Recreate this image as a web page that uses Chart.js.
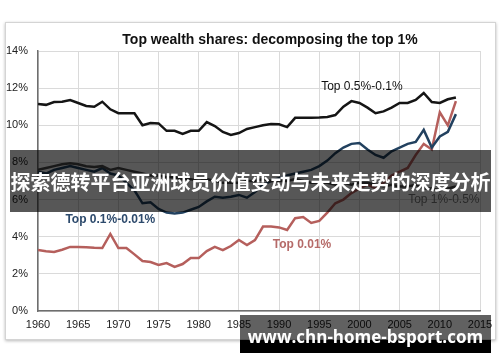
<!DOCTYPE html>
<html><head><meta charset="utf-8">
<script src="https://cdn.jsdelivr.net/npm/chart.js@4.4.1/dist/chart.umd.min.js"></script>
<style>
html,body{margin:0;padding:0;background:#fff;}
#wrap{position:relative;width:500px;height:362px;overflow:hidden;background:#fff;}
#frame{position:absolute;left:5px;top:22px;width:489px;height:316px;border:1px solid #d4d4d4;box-shadow:0 1px 3px rgba(0,0,0,0.28);background:#fff;}
#c{position:absolute;left:0;top:0;}
#title{position:absolute;left:0;top:31px;width:540px;text-align:center;font:bold 14px "Liberation Sans",Arial,sans-serif;color:#111;white-space:nowrap;}
#band{position:absolute;left:10px;top:150px;width:481px;height:62px;background:rgba(0,0,0,0.66);}
#band span{position:absolute;left:0;top:20px;width:481px;text-align:center;color:#fff;font:bold 20px "Noto Sans CJK SC",sans-serif;line-height:24px;white-space:nowrap;}
#wm{position:absolute;left:240px;top:315px;width:251px;height:38px;background:linear-gradient(to bottom,rgba(0,0,0,0.62) 0,rgba(0,0,0,0.62) 25px,#000 25px,#000 38px);}
#wm span{position:absolute;left:0;top:11px;width:251px;text-align:center;color:#fff;font:bold 17px "Open Sans",sans-serif;line-height:22px;white-space:nowrap;}
</style></head>
<body>
<div id="wrap">
<div id="frame"></div>
<canvas id="c" width="500" height="362"></canvas>
<div id="title">Top wealth shares: decomposing the top 1%</div>
<div id="band"><span>探索德转平台亚洲球员价值变动与未来走势的深度分析</span></div>
<div id="wm"><span>www.chn-home-bsport.com</span></div>
</div>
<script>
const years = [1960,1961,1962,1963,1964,1965,1966,1967,1968,1969,
1970,1971,1972,1973,1974,1975,1976,1977,1978,1979,
1980,1981,1982,1983,1984,1985,1986,1987,1988,1989,
1990,1991,1992,1993,1994,1995,1996,1997,1998,1999,
2000,2001,2002,2003,2004,2005,2006,2007,2008,2009,
2010,2011,2012];

const top1to05 = [7.6,7.7,7.8,7.9,7.95,7.9,7.8,7.75,7.8,7.6,
7.7,7.6,7.5,7.4,7.3,7.3,7.2,7.2,7.1,7.1,
7.0,7.1,7.0,6.9,6.9,6.9,7.0,7.0,7.1,7.0,
7.0,7.0,7.1,7.0,6.9,6.9,6.9,6.8,6.9,6.8,
6.9,6.9,6.8,6.7,6.8,6.7,6.7,6.8,6.6,6.6,
6.5,6.6,6.7];

const top05to01 = [11.15,11.1,11.25,11.27,11.36,11.2,11.04,11.0,11.27,10.86,
10.65,10.65,10.65,10.0,10.12,10.1,9.7,9.7,9.53,9.7,
9.7,10.17,9.96,9.64,9.48,9.58,9.8,9.9,10.0,10.07,
10.05,9.9,10.4,10.4,10.4,10.42,10.45,10.55,11.0,11.3,
11.2,10.95,10.65,10.75,10.95,11.2,11.2,11.36,11.74,11.25,
11.2,11.4,11.5];

const top01to001 = [7.5,7.4,7.6,7.7,7.8,7.7,7.6,7.5,7.7,7.4,
7.3,6.9,6.5,5.8,5.85,5.5,5.3,5.25,5.3,5.45,
5.6,5.9,6.15,6.1,6.15,6.25,6.1,6.4,6.8,7.0,
7.15,7.3,7.4,7.5,7.6,7.8,8.1,8.5,8.8,9.0,
9.05,8.7,8.4,8.25,8.6,8.8,9.0,9.1,9.75,8.8,
9.4,9.65,10.6];

const top001 = [3.28,3.22,3.18,3.3,3.45,3.45,3.43,3.4,3.39,4.15,
3.39,3.39,3.05,2.69,2.64,2.48,2.58,2.37,2.53,2.85,
2.85,3.23,3.45,3.28,3.5,3.82,3.55,3.82,4.55,4.55,
4.5,4.36,5.0,5.06,4.74,4.85,5.3,5.8,6.0,6.35,
6.6,6.8,6.6,6.9,7.3,7.5,7.7,8.4,9.0,8.7,
10.7,10.0,11.3];

const xTicks = [1960,1965,1970,1975,1980,1985,1990,1995,2000,2005,2010,2015];
const yTicks = [0,2,4,6,8,10,12,14];

const seriesLabels = [
  {text:'Top 0.5%-0.1%', x:2000.3, y:12.06, color:'#111', bold:false},
  {text:'Top 0.1%-0.01%', x:1969.0, y:4.9, color:'#2d4a6c', bold:true},
  {text:'Top 0.01%', x:1992.85, y:3.55, color:'#b56a68', bold:true},
  {text:'Top 1%-0.5%', x:2010.5, y:5.98, color:'#7a7a7a', bold:false}
];

function pts(vals){ return years.map((yr,i)=>({x:yr,y:vals[i]})); }

const labelPlugin = {
  id:'seriesLabels',
  afterDatasetsDraw(chart){
    const {ctx, scales:{x,y}} = chart;
    ctx.save();
    ctx.textAlign='center'; ctx.textBaseline='middle';
    seriesLabels.forEach(l=>{
      ctx.font = (l.bold?'bold ':'') + '12px "Liberation Sans", Arial, sans-serif';
      ctx.fillStyle = l.color;
      ctx.fillText(l.text, x.getPixelForValue(l.x), y.getPixelForValue(l.y));
    });
    ctx.restore();
  }
};

const lineDs = (label, vals, color) => ({
  label, data: pts(vals), borderColor: color, backgroundColor: color,
  borderWidth: 2.5, pointRadius: 0, tension: 0, fill: false
});

const tickFont = {family:'"Liberation Sans", Arial, sans-serif', size:11};

new Chart(document.getElementById('c'), {
  type:'line',
  data:{datasets:[
    lineDs('Top 1%-0.5%', top1to05, '#4a4a4a'),
    lineDs('Top 0.5%-0.1%', top05to01, '#151515'),
    lineDs('Top 0.1%-0.01%', top01to001, '#22415f'),
    lineDs('Top 0.01%', top001, '#b55f5c')
  ]},
  options:{
    responsive:false, animation:false,
    layout:{padding:{left:4,right:20,top:51,bottom:0}},
    plugins:{legend:{display:false}, tooltip:{enabled:false}, title:{display:false}},
    scales:{
      x:{type:'linear', min:1960, max:2015,
        afterBuildTicks:s=>{ s.ticks = xTicks.map(v=>({value:v})); },
        ticks:{callback:v=>String(v), font:tickFont, color:'#222', padding:7, maxRotation:0, autoSkip:false},
        grid:{color:'#dadada', drawTicks:false},
        border:{color:'#6e6e6e', width:1.5},
        afterFit:s=>{ s.height = 51; }
      },
      y:{min:0, max:14,
        afterBuildTicks:s=>{ s.ticks = yTicks.map(v=>({value:v})); },
        ticks:{callback:v=>v+'%', font:tickFont, color:'#222', padding:10},
        grid:{color:'#dadada', drawTicks:false},
        border:{color:'#6e6e6e', width:1.5},
        afterFit:s=>{ s.width = 34; }
      }
    }
  },
  plugins:[labelPlugin]
});
</script>
</body></html>
